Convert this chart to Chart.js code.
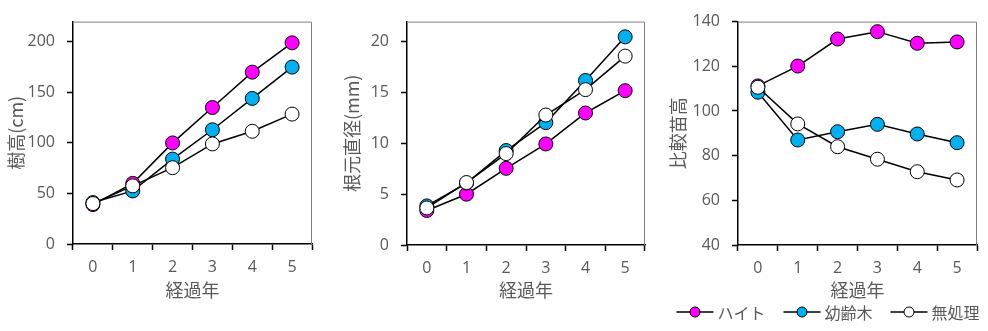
<!DOCTYPE html>
<html>
<head>
<meta charset="utf-8">
<script src="https://cdn.jsdelivr.net/npm/chart.js@4.4.0/dist/chart.umd.min.js"></script>
<style>
  body { margin: 0; background: #fff; }
  .box { position: absolute; top: 0; height: 331px; }
</style>
</head>
<body>
<div class="box" style="left:0;width:330px"><canvas id="chartH"></canvas></div>
<div class="box" style="left:330px;width:330px"><canvas id="chartD"></canvas></div>
<div class="box" style="left:660px;width:328px"><canvas id="chartR"></canvas></div>
<script>
  // categories / series
  const years = ['0', '1', '2', '3', '4', '5'];
  const seriesNames = ['ハイト', '幼齢木', '無処理'];

  // 樹高 (cm)
  const heightHaito   = [39, 60, 100, 135, 170, 199];
  const heightYourei  = [41, 52.5, 84, 113, 144, 175];
  const heightMushori = [40, 57.5, 75.5, 99, 111.5, 128.5];

  // 根元直径 (mm)
  const diamHaito   = [3.4, 5.0, 7.55, 9.95, 13.0, 15.2];
  const diamYourei  = [3.85, 6.1, 9.3, 12.05, 16.2, 20.5];
  const diamMushori = [3.65, 6.15, 9.0, 12.8, 15.3, 18.6];

  // 比較苗高
  const ratioHaito   = [111.2, 120.1, 132.2, 135.5, 130.3, 130.9];
  const ratioYourei  = [108.4, 87, 90.7, 94, 89.7, 85.8];
  const ratioMushori = [110.6, 94.2, 84, 78.4, 72.8, 69.1];

  // tick labels
  const ticksHeight = [0, 50, 100, 150, 200];
  const ticksDiam   = [0, 5, 10, 15, 20];
  const ticksRatio  = [40, 60, 80, 100, 120, 140];

  const fills = ['#FF00FF', '#00B0F0', '#FFFFFF'];
  const grey = '#595959';
  const numFont = "'Open Sans', 'Noto Sans CJK JP', sans-serif";
  const jpFont = "'Noto Sans CJK JP', sans-serif";

  function makeDatasets(a, b, c) {
    return [a, b, c].map((d, i) => ({
      label: seriesNames[i],
      data: d,
      borderColor: '#000',
      borderWidth: 1.5,
      pointBackgroundColor: fills[i],
      pointBorderColor: '#000',
      pointBorderWidth: 1,
      pointRadius: 7,
      pointHoverRadius: 7,
      order: 3 - i
    }));
  }

  // grey top/right border of the plot area
  const frame = {
    id: 'frame',
    beforeDatasetsDraw(chart) {
      const { ctx, chartArea: { top, right, bottom, left } } = chart;
      ctx.save();
      ctx.strokeStyle = '#808080';
      ctx.lineWidth = 1;
      ctx.beginPath();
      ctx.moveTo(left, top + 0.5);
      ctx.lineTo(right - 0.5, top + 0.5);
      ctx.lineTo(right - 0.5, bottom);
      ctx.stroke();
      ctx.restore();
    }
  };

  // line + marker legend under the third chart
  const lineLegend = {
    id: 'lineLegend',
    afterDraw(chart, args, options) {
      const ctx = chart.ctx;
      ctx.save();
      ctx.font = '16px ' + jpFont;
      ctx.textBaseline = 'middle';
      const lineLen = 37, gapText = 4, gapItem = 18;
      const widths = seriesNames.map(n => ctx.measureText(n).width);
      const total = widths.reduce((s, w) => s + lineLen + gapText + w, 0) + gapItem * (seriesNames.length - 1);
      let x = chart.width / 2 + 4 - total / 2;
      const y = options.y;
      seriesNames.forEach((n, i) => {
        ctx.strokeStyle = '#000';
        ctx.lineWidth = 1.5;
        ctx.beginPath();
        ctx.moveTo(x, y);
        ctx.lineTo(x + lineLen, y);
        ctx.stroke();
        ctx.beginPath();
        ctx.arc(x + lineLen / 2, y, 5, 0, Math.PI * 2);
        ctx.fillStyle = fills[i];
        ctx.fill();
        ctx.lineWidth = 1;
        ctx.stroke();
        ctx.fillStyle = grey;
        ctx.fillText(n, x + lineLen + gapText, y + 1);
        x += lineLen + gapText + widths[i] + gapItem;
      });
      ctx.restore();
    }
  };

  function makeConfig(datasets, yMin, yMax, yTicks, yTitle, box) {
    return {
      type: 'line',
      data: { labels: years, datasets: datasets },
      options: {
        responsive: true,
        maintainAspectRatio: false,
        animation: false,
        layout: { padding: { left: 0, top: box.top, right: box.right, bottom: 30 } },
        plugins: {
          legend: { display: false },
          tooltip: { enabled: false },
          lineLegend: { y: 312 }
        },
        scales: {
          x: {
            offset: true,
            afterFit: s => { s.height = box.xh; },
            grid: { drawOnChartArea: false, offset: true, tickLength: 6, tickColor: '#000', tickWidth: 1.5 },
            border: { color: '#000', width: 1.5 },
            ticks: { color: grey, font: { family: numFont, size: 16 }, padding: 8 },
            title: { display: true, text: '経過年', color: grey, font: { family: jpFont, size: 18 }, padding: 0 }
          },
          y: {
            min: yMin,
            max: yMax,
            afterBuildTicks: s => { s.ticks = yTicks.map(v => ({ value: v })); },
            afterFit: s => { s.width = box.left; },
            grid: { drawOnChartArea: false, tickLength: 6, tickColor: '#000', tickWidth: 1.5 },
            border: { color: '#000', width: 1.5 },
            ticks: { color: grey, font: { family: numFont, size: 16 }, padding: 12 },
            title: { display: true, text: yTitle, color: grey, font: { family: jpFont, size: 18 }, padding: { top: box.tp } }
          }
        }
      },
      plugins: [frame]
    };
  }

  const myChartH = new Chart(
    document.getElementById('chartH'),
    makeConfig(makeDatasets(heightHaito, heightYourei, heightMushori), 0, 220, ticksHeight, '樹高(cm)',
      { left: 73, top: 20, right: 18, xh: 57, tp: 5 })
  );

  const myChartD = new Chart(
    document.getElementById('chartD'),
    makeConfig(makeDatasets(diamHaito, diamYourei, diamMushori), 0, 22, ticksDiam, '根元直径(mm)',
      { left: 77, top: 20, right: 15, xh: 56, tp: 11 })
  );

  const configR = makeConfig(makeDatasets(ratioHaito, ratioYourei, ratioMushori), 40, 140, ticksRatio, '比較苗高',
    { left: 78, top: 21, right: 11, xh: 56, tp: 7 });
  configR.plugins.push(lineLegend);
  const myChartR = new Chart(document.getElementById('chartR'), configR);
</script>
</body>
</html>
